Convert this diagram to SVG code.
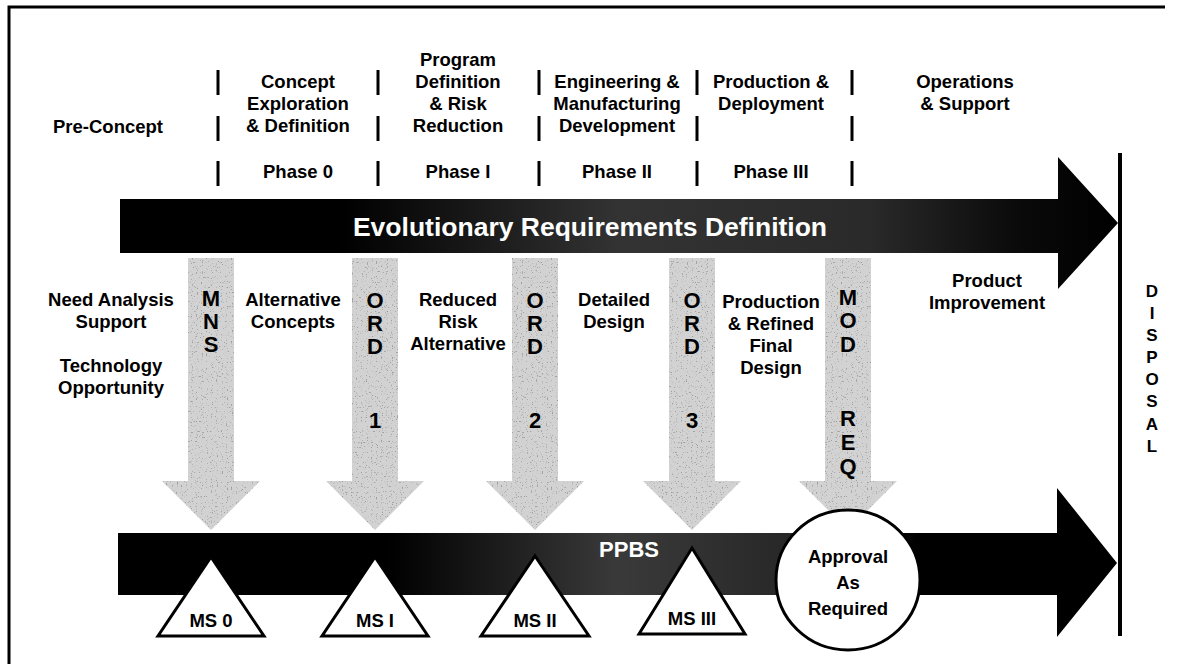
<svg xmlns="http://www.w3.org/2000/svg" width="1191" height="664" viewBox="0 0 1191 664">
<style>
text{font-family:"Liberation Sans",Arial,sans-serif;font-weight:bold;text-anchor:middle;fill:#000}
.h{font-size:18.5px}
.v{font-size:22px}
.d{font-size:17px}
.w{fill:#fff}
.bar{stroke:#000;stroke-width:3;fill:none}
.tri{fill:#fff;stroke:#000;stroke-width:3;stroke-linejoin:miter}
.down{fill:#d2d2d2;filter:url(#speck)}
</style>
<defs>
<filter id="speck" x="0" y="0" width="100%" height="100%">
<feTurbulence type="fractalNoise" baseFrequency="0.8" numOctaves="1" seed="4" result="n"/>
<feColorMatrix in="n" type="matrix" values="0 0 0 0 0.35 0 0 0 0 0.35 0 0 0 0 0.35 -9 0 0 0 3.5" result="dots"/>
<feComposite in="dots" in2="SourceGraphic" operator="in" result="d"/>
<feMerge><feMergeNode in="SourceGraphic"/><feMergeNode in="d"/></feMerge>
</filter>
<linearGradient id="gTop" x1="120" y1="0" x2="1118" y2="0" gradientUnits="userSpaceOnUse">
<stop offset="0" stop-color="#000"/>
<stop offset="0.22" stop-color="#000"/>
<stop offset="0.5" stop-color="#333"/>
<stop offset="0.75" stop-color="#2a2a2a"/>
<stop offset="0.9" stop-color="#0a0a0a"/>
<stop offset="1" stop-color="#000"/>
</linearGradient>
<linearGradient id="gBot" x1="118" y1="0" x2="1117" y2="0" gradientUnits="userSpaceOnUse">
<stop offset="0" stop-color="#000"/>
<stop offset="0.27" stop-color="#000"/>
<stop offset="0.5" stop-color="#3a3a3a"/>
<stop offset="0.72" stop-color="#222"/>
<stop offset="0.8" stop-color="#000"/>
<stop offset="1" stop-color="#000"/>
</linearGradient>
</defs>
<rect width="1191" height="664" fill="#fff"/>
<g id="frame">
<path d="M9,664 V7 H1165" fill="none" stroke="#000" stroke-width="3"/>
</g>
<g id="header">
<text class="h" x="108" y="133">Pre-Concept</text>
<text class="h" x="298" y="88">Concept</text>
<text class="h" x="298" y="110">Exploration</text>
<text class="h" x="298" y="132">&amp; Definition</text>
<text class="h" x="458" y="66">Program</text>
<text class="h" x="458" y="88">Definition</text>
<text class="h" x="458" y="110">&amp; Risk</text>
<text class="h" x="458" y="132">Reduction</text>
<text class="h" x="617" y="88">Engineering &amp;</text>
<text class="h" x="617" y="110">Manufacturing</text>
<text class="h" x="617" y="132">Development</text>
<text class="h" x="771" y="88">Production &amp;</text>
<text class="h" x="771" y="110">Deployment</text>
<text class="h" x="965" y="88">Operations</text>
<text class="h" x="965" y="110">&amp; Support</text>
<text class="h" x="298" y="178">Phase 0</text>
<text class="h" x="458" y="178">Phase I</text>
<text class="h" x="617" y="178">Phase II</text>
<text class="h" x="771" y="178">Phase III</text>
<path class="bar" d="M218,70V95M218,116V141M218,161V186M378,70V95M378,116V141M378,161V186M539,70V95M539,116V141M539,161V186M697,70V95M697,116V141M697,161V186M852,70V95M852,116V141M852,161V186"/>
</g>
<g id="evolutionary">
<path d="M120,199 H1058 V157 L1118,223 L1058,289 V253 H120 Z" fill="url(#gTop)"/>
<text x="590" y="236" class="w" style="font-size:26.5px">Evolutionary Requirements Definition</text>
</g>
<g id="ppbs">
<path d="M118,533 H1057 V488 L1117,563 L1057,637 V595 H118 Z" fill="url(#gBot)"/>
<text x="629" y="557" class="w" style="font-size:22px">PPBS</text>
</g>
<g id="disposal">
<rect x="1118" y="153" width="4" height="483" fill="#000"/>
<text class="d" x="1152" y="297">D</text>
<text class="d" x="1152" y="319">I</text>
<text class="d" x="1152" y="341">S</text>
<text class="d" x="1152" y="363">P</text>
<text class="d" x="1152" y="385">O</text>
<text class="d" x="1152" y="407">S</text>
<text class="d" x="1152" y="430">A</text>
<text class="d" x="1152" y="452">L</text>
</g>
<g id="connectors">
<path class="down" d="M188,258 H234 V481 H260 L211,530 L162,481 H188 Z"/>
<path class="down" d="M352,258 H398 V481 H424 L375,530 L326,481 H352 Z"/>
<path class="down" d="M512,258 H558 V481 H584 L535,530 L486,481 H512 Z"/>
<path class="down" d="M669,258 H715 V481 H741 L692,530 L643,481 H669 Z"/>
<path class="down" d="M825,258 H871 V481 H897 L848,530 L799,481 H825 Z"/>
</g>
<g id="doc-labels">
<text class="v" x="211" y="306">M</text>
<text class="v" x="211" y="329">N</text>
<text class="v" x="211" y="352">S</text>
<text class="v" x="375" y="308">O</text>
<text class="v" x="375" y="331">R</text>
<text class="v" x="375" y="354">D</text>
<text class="v" x="375" y="428">1</text>
<text class="v" x="535" y="308">O</text>
<text class="v" x="535" y="331">R</text>
<text class="v" x="535" y="354">D</text>
<text class="v" x="535" y="428">2</text>
<text class="v" x="692" y="308">O</text>
<text class="v" x="692" y="331">R</text>
<text class="v" x="692" y="354">D</text>
<text class="v" x="692" y="428">3</text>
<text class="v" x="848" y="305">M</text>
<text class="v" x="848" y="328">O</text>
<text class="v" x="848" y="352">D</text>
<text class="v" x="848" y="426">R</text>
<text class="v" x="848" y="450">E</text>
<text class="v" x="848" y="474">Q</text>
</g>
<g id="activities">
<text class="h" x="111" y="306">Need Analysis</text>
<text class="h" x="111" y="328">Support</text>
<text class="h" x="111" y="372">Technology</text>
<text class="h" x="111" y="394">Opportunity</text>
<text class="h" x="293" y="306">Alternative</text>
<text class="h" x="293" y="328">Concepts</text>
<text class="h" x="458" y="306">Reduced</text>
<text class="h" x="458" y="328">Risk</text>
<text class="h" x="458" y="350">Alternative</text>
<text class="h" x="614" y="306">Detailed</text>
<text class="h" x="614" y="328">Design</text>
<text class="h" x="771" y="308">Production</text>
<text class="h" x="771" y="330">&amp; Refined</text>
<text class="h" x="771" y="352">Final</text>
<text class="h" x="771" y="374">Design</text>
<text class="h" x="987" y="287">Product</text>
<text class="h" x="987" y="309">Improvement</text>
</g>
<g id="ms0"><path class="tri" d="M211,557 L264,636 H158 Z"/><text class="h" x="211" y="627">MS 0</text></g>
<g id="ms1"><path class="tri" d="M375,557 L428,636 H322 Z"/><text class="h" x="375" y="627">MS I</text></g>
<g id="ms2"><path class="tri" d="M535,556 L589,636 H481 Z"/><text class="h" x="535" y="627">MS II</text></g>
<g id="ms3"><path class="tri" d="M692,548 L745,634 H639 Z"/><text class="h" x="692" y="625">MS III</text></g>
<g id="approval">
<ellipse cx="848" cy="580" rx="72" ry="70" fill="#fff" stroke="#000" stroke-width="3"/>
<text class="h" x="848" y="563">Approval</text>
<text class="h" x="848" y="589">As</text>
<text class="h" x="848" y="615">Required</text>
</g>
</svg>
